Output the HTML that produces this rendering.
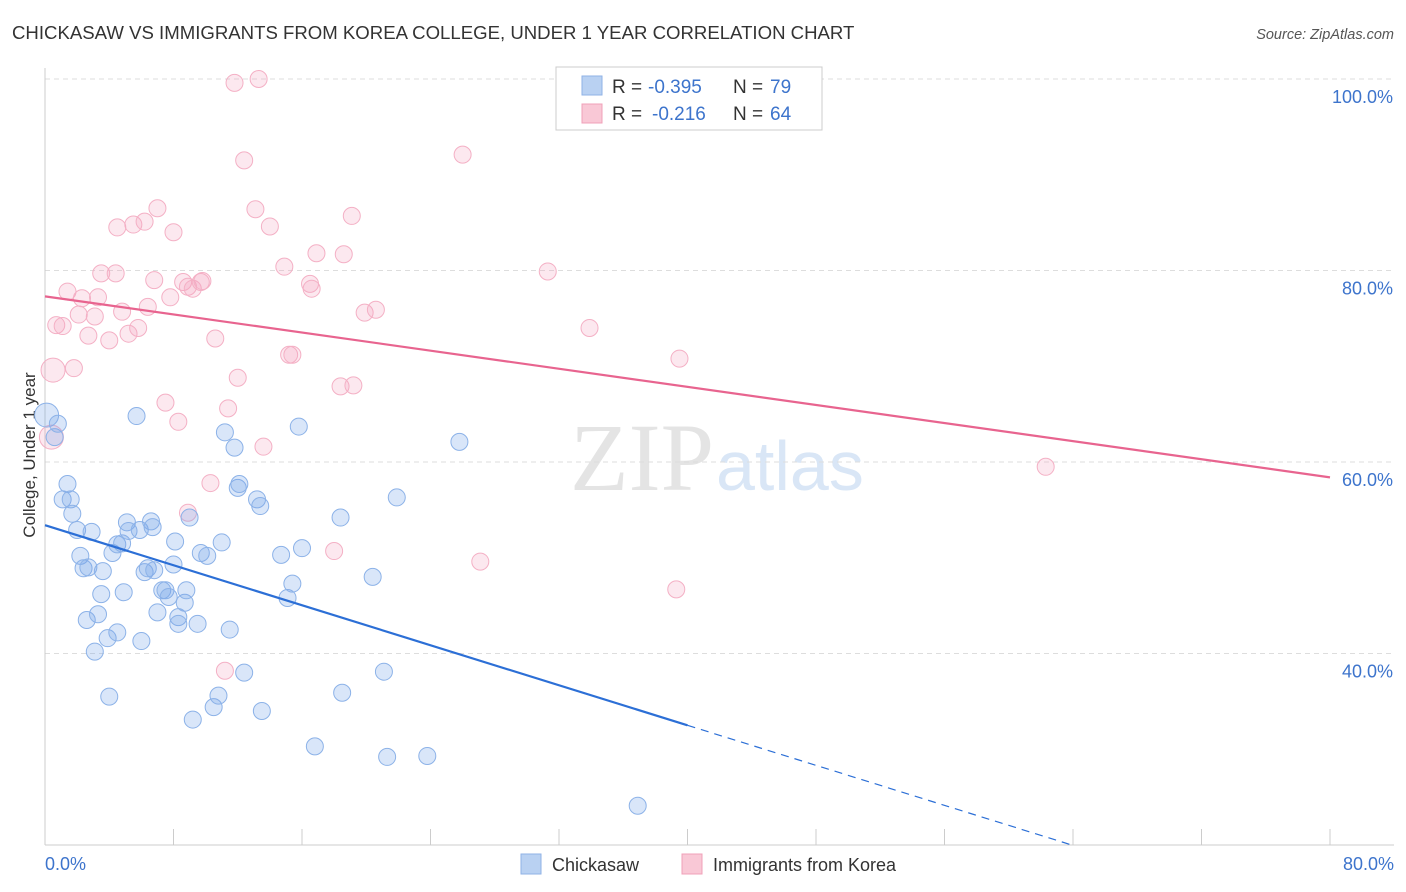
<!DOCTYPE html>
<html><head><meta charset="utf-8"><style>
body{margin:0;background:#fff;font-family:"Liberation Sans",sans-serif;}
</style></head><body>
<svg id="chart" width="1406" height="892" xmlns="http://www.w3.org/2000/svg" style="display:block">
<text x="12" y="39" font-size="18.6" fill="#333">CHICKASAW VS IMMIGRANTS FROM KOREA COLLEGE, UNDER 1 YEAR CORRELATION CHART</text>
<text x="1394" y="39" font-size="14.5" fill="#555" font-style="italic" text-anchor="end">Source: ZipAtlas.com</text>
<text x="714" y="490" font-size="96" fill="#e4e4e4" text-anchor="end" font-family="Liberation Serif,serif">ZIP</text>
<text x="716" y="490" font-size="70" fill="#d9e6f6">atlas</text>
<text x="35" y="455" font-size="17" fill="#333" text-anchor="middle" transform="rotate(-90 35 455)">College, Under 1 year</text>
<g id="grid"></g><g id="pts"></g><g id="lines"></g>
<g>
<rect x="556" y="67" width="266" height="63" fill="#fff" stroke="#ccc"/>
<rect x="582" y="76" width="20" height="19" fill="#b9d1f2" stroke="#8fb2e6"/>
<rect x="582" y="104" width="20" height="19" fill="#f9c8d6" stroke="#f0a0b8"/>
<text x="612" y="93" font-size="19" fill="#333">R =</text>
<text x="648" y="93" font-size="19" fill="#3d74cc">-0.395</text>
<text x="733" y="93" font-size="19" fill="#333">N =</text>
<text x="770" y="93" font-size="19" fill="#3d74cc">79</text>
<text x="612" y="120" font-size="19" fill="#333">R =</text>
<text x="652" y="120" font-size="19" fill="#3d74cc">-0.216</text>
<text x="733" y="120" font-size="19" fill="#333">N =</text>
<text x="770" y="120" font-size="19" fill="#3d74cc">64</text>
</g>
<g>
<rect x="521" y="854" width="20" height="20" fill="#b9d1f2" stroke="#8fb2e6"/>
<text x="552" y="871" font-size="18" fill="#333">Chickasaw</text>
<rect x="682" y="854" width="20" height="20" fill="#f9c8d6" stroke="#f0a0b8"/>
<text x="713" y="871" font-size="18" fill="#333">Immigrants from Korea</text>
</g>
</svg>
<script>
const yTicks=[100,80,60,40];
const xTickLabels=["0.0%","80.0%"];
const blueX=[0.1,0.6,0.8,1.1,1.4,1.6,1.7,2.0,2.2,2.4,2.7,2.9,2.6,3.1,3.3,3.5,3.6,3.9,4.0,4.2,4.5,4.5,4.8,4.9,5.1,5.2,5.7,5.9,6.0,6.2,6.4,6.6,6.7,6.8,7.0,7.3,7.5,7.7,8.0,8.1,8.3,8.3,8.7,8.8,9.0,9.2,9.5,9.7,10.1,10.5,10.8,11.0,11.2,11.5,11.8,12.0,12.1,12.4,13.2,13.4,13.5,14.7,15.1,15.4,15.8,16.0,16.8,18.4,18.5,20.4,21.1,21.3,21.9,23.8,25.8,36.9];
const blueY=[64.9,62.6,64.0,56.1,57.7,56.1,54.6,52.9,50.2,48.9,49.0,52.7,43.5,40.2,44.1,46.2,48.6,41.6,35.5,50.5,42.2,51.4,51.5,46.4,53.7,52.8,64.8,52.9,41.3,48.5,48.9,53.8,53.2,48.7,44.3,46.6,46.6,45.9,49.3,51.7,43.8,43.1,45.3,46.6,54.2,33.1,43.1,50.5,50.2,34.4,35.6,51.6,63.1,42.5,61.5,57.3,57.7,38.0,56.1,55.4,34.0,50.3,45.8,47.3,63.7,51.0,30.3,54.2,35.9,48.0,38.1,29.2,56.3,29.3,62.1,24.1];
const pinkX=[0.4,0.5,0.7,1.1,1.4,1.8,2.1,2.3,2.7,3.1,3.3,3.5,4.0,4.4,4.5,4.8,5.2,5.5,5.8,6.2,6.4,6.8,7.0,7.5,8.0,7.8,8.3,8.6,8.9,9.2,9.7,9.8,10.3,10.6,11.2,11.4,11.8,12.0,12.4,13.1,13.3,13.6,14.0,14.9,15.2,15.4,16.5,16.6,16.9,18.0,18.4,18.6,19.1,19.2,19.9,20.6,26.0,27.1,31.3,33.9,39.3,39.5,62.3,8.9];
const pinkY=[62.6,69.6,74.3,74.2,77.8,69.8,75.4,77.1,73.2,75.2,77.2,79.7,72.7,79.7,84.5,75.7,73.4,84.8,74.0,85.1,76.2,79.0,86.5,66.2,84.0,77.2,64.2,78.8,78.3,78.1,78.8,78.9,57.8,72.9,38.2,65.6,99.6,68.8,91.5,86.4,100,61.6,84.6,80.4,71.2,71.2,78.6,78.1,81.8,50.7,67.9,81.7,85.7,68.0,75.6,75.9,92.1,49.6,79.9,74.0,46.7,70.8,59.5,54.7];
const blueTrend=[53.4,-0.5225];
const pinkTrend=[77.3,-0.2363];
const NS="http://www.w3.org/2000/svg";
const X=v=>45+v/80*1285, Y=v=>79+(100-v)*9.575;
function mk(t,a,p){const e=document.createElementNS(NS,t);for(const k in a)e.setAttribute(k,a[k]);p.appendChild(e);return e;}
const grid=document.getElementById('grid');
yTicks.forEach(t=>{
 const l=mk('line',{x1:45,x2:1394,y1:Y(t),y2:Y(t),stroke:'#ddd','stroke-dasharray':'5,4'},grid);
 
 
 const tx=mk('text',{x:1393,y:Y(t)+24,'font-size':18,fill:'#3d74cc','text-anchor':'end'},grid);
 tx.textContent=t.toFixed(1)+'%';
 
 
});
const ax=mk('line',{x1:45,x2:45,y1:68,y2:845,stroke:'#ccc'},grid);


const bx=mk('line',{x1:45,x2:1394,y1:845,y2:845,stroke:'#ccc'},grid);


for(let i=0;i<=10;i++){const t=mk('line',{x1:X(i*8),x2:X(i*8),y1:829,y2:845,stroke:'#ccc'},grid);
 
 }
[[0,'start'],[80,'end']].forEach((p,i)=>{const t=mk('text',{x:i?1394:45,y:870,'font-size':18,fill:'#3d74cc','text-anchor':p[1]},grid);t.textContent=xTickLabels[i];
 
 });
const pts=document.getElementById('pts');
function dots(xs,ys,fill,stroke,name){xs.forEach((x,i)=>{const r=(x<0.6&&i<2)?12:8.5;
 const c=mk('circle',{cx:X(x),cy:Y(ys[i]),r:r,fill:fill,stroke:stroke,'stroke-width':1},pts);
 
 });}
dots(pinkX,pinkY,'rgba(244,165,190,0.25)','#f4b0c5','korea-point');
dots(blueX,blueY,'rgba(120,165,235,0.28)','#8cb2e8','chickasaw-point');
const lines=document.getElementById('lines');
const bEnd=(20-blueTrend[0])/blueTrend[1];
const b1=mk('line',{x1:X(0),y1:Y(blueTrend[0]),x2:X(40),y2:Y(blueTrend[0]+blueTrend[1]*40),stroke:'#2c6fd6','stroke-width':2.2},lines);


const b2=mk('line',{x1:X(40),y1:Y(blueTrend[0]+blueTrend[1]*40),x2:X(bEnd),y2:Y(20),stroke:'#2c6fd6','stroke-width':1.2,'stroke-dasharray':'8,6'},lines);


const p1=mk('line',{x1:X(0),y1:Y(pinkTrend[0]),x2:X(80),y2:Y(pinkTrend[0]+pinkTrend[1]*80),stroke:'#e8648f','stroke-width':2.2},lines);


</script>
</body></html>
